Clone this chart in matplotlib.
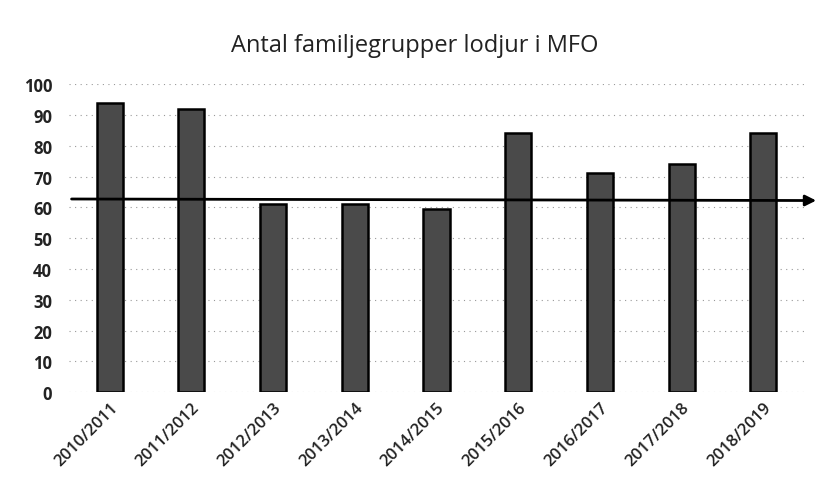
import numpy as np
import matplotlib.pyplot as plt

seasons = ["2010/2011", "2011/2012", "2012/2013", "2013/2014", "2014/2015",
           "2015/2016", "2016/2017", "2017/2018", "2018/2019"]
groups = [94, 92, 61, 61, 59.5, 84, 71, 74, 84]
target = 62.5

plt.rcParams['font.family'] = ['Open Sans', 'DejaVu Sans']

fig = plt.figure(figsize=(8.19, 4.89), dpi=100, facecolor='w')
ax = fig.add_axes([0.084, 0.196, 0.898, 0.630])

x = np.arange(len(seasons))
ax.bar(x, groups, width=0.32, color='#4a4a4a', edgecolor='black', linewidth=1.8, zorder=2)

ax.set_xlim(-0.5, len(seasons) - 0.5)
ax.set_ylim(0, 100)
ax.set_yticks(range(0, 101, 10))
ax.yaxis.grid(True, linestyle=(0, (1, 4)), color='#999999', linewidth=0.8, zorder=0)

ax.set_xticks(x)
ax.set_xticklabels(seasons, rotation=45, ha='right', rotation_mode='anchor',
                   fontsize=12, fontweight='semibold', color='#222222')
for lab in ax.get_yticklabels():
    lab.set_fontsize(12)
    lab.set_fontweight('bold')
    lab.set_color('#222222')
ax.tick_params(axis='y', length=0, pad=12)
ax.tick_params(axis='x', length=0, pad=5)
for s in ax.spines.values():
    s.set_visible(False)

# reference line with arrow
ax.annotate('', xy=(1.02, target - 0.3), xytext=(0.0, target + 0.2),
            xycoords=('axes fraction', 'data'), textcoords=('axes fraction', 'data'),
            arrowprops=dict(arrowstyle='-|>', color='black', lw=2, mutation_scale=16),
            annotation_clip=False, zorder=5)

fig.text(0.507, 0.905, "Antal familjegrupper lodjur i MFO", ha='center', va='center',
         fontsize=17, color='#222222')

fig.savefig("out.png", dpi=100, facecolor='w')
